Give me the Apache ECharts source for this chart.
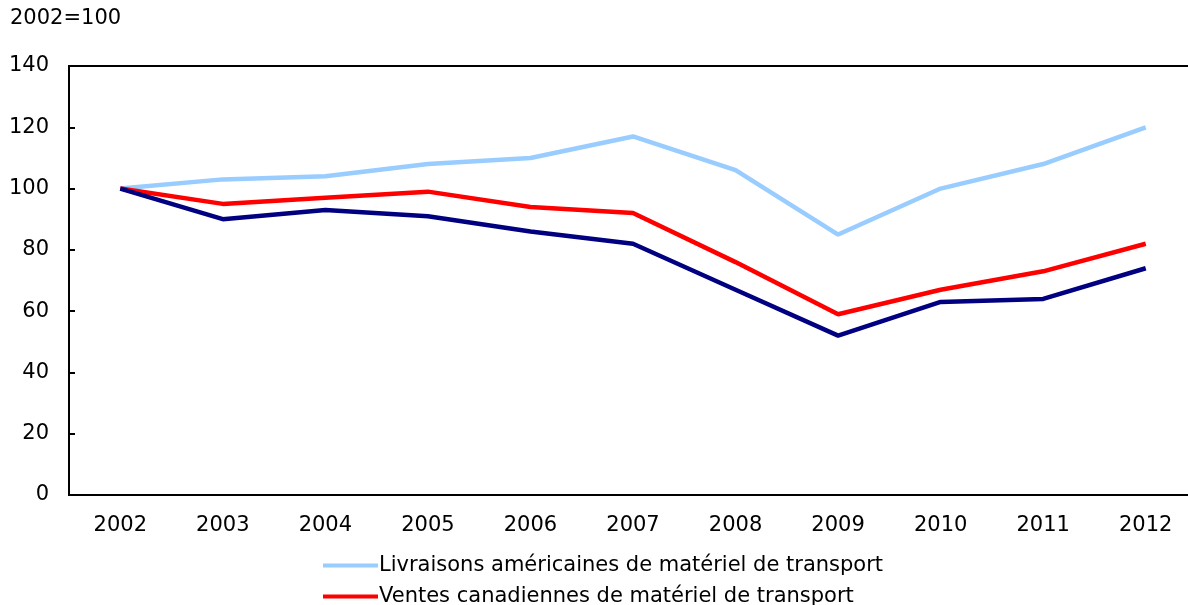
<!DOCTYPE html>
<html>
<head>
<meta charset="utf-8">
<script src="https://cdn.jsdelivr.net/npm/echarts@6/dist/echarts.min.js"></script>
<style>
  html, body { margin: 0; padding: 0; background: #fff; }
  #chart { width: 1188px; height: 605px; }
</style>
</head>
<body>
<div id="chart"></div>
<script>
// years on the category axis
const years = ['2002', '2003', '2004', '2005', '2006', '2007', '2008', '2009', '2010', '2011', '2012'];

// index values, 2002 = 100
const usDeliveries = [100, 103, 104, 108, 110, 117, 106, 85, 100, 108, 120];
const cdnSales = [100, 95, 97, 99, 94, 92, 76, 59, 67, 73, 82];
const cdnThird = [100, 90, 93, 91, 86, 82, 67, 52, 63, 64, 74];

const seriesNames = [
    'Livraisons américaines de matériel de transport',
    'Ventes canadiennes de matériel de transport',
    'Ventes canadiennes (autre)'
];

const font = 'DejaVu Sans, Verdana, sans-serif';
const fontSize = 21;

const chart = echarts.init(document.getElementById('chart'));

function line(name, data, color) {
    return {
        name: name,
        type: 'line',
        data: data,
        symbol: 'none',
        lineStyle: { color: color, width: 4.5 },
        itemStyle: { color: color },
        z: 3
    };
}

// one legend block per row, the third row falls below the picture
function legendRow(name, top) {
    return {
        data: [name],
        left: 318,
        top: top,
        itemWidth: 55,
        itemHeight: 4,
        icon: 'rect',
        textStyle: { fontSize: fontSize, color: '#000', fontFamily: font, padding: [0, 0, 0, -4] }
    };
}

chart.setOption({
    animation: false,
    textStyle: { fontFamily: font },
    graphic: [{
        type: 'text',
        left: 10,
        top: 8,
        style: { text: '2002=100', font: fontSize + 'px ' + font, fill: '#000' }
    }],
    grid: {
        left: 69,
        top: 66,
        width: 1128,
        height: 429,
        outerBoundsMode: 'none',
        containLabel: false,
        show: true,
        borderColor: '#000',
        borderWidth: 2
    },
    legend: [
        legendRow(seriesNames[0], 550),
        legendRow(seriesNames[1], 581)
    ],
    xAxis: {
        type: 'category',
        data: years,
        boundaryGap: true,
        axisLine: { lineStyle: { color: '#000', width: 2 } },
        axisTick: { show: false },
        axisLabel: { fontSize: fontSize, color: '#000', margin: 20 }
    },
    yAxis: {
        type: 'value',
        min: 0,
        max: 140,
        interval: 20,
        axisLine: { show: true, lineStyle: { color: '#000', width: 2 } },
        axisTick: { show: true, inside: true, length: 6, lineStyle: { color: '#000', width: 2 } },
        splitLine: { show: false },
        axisLabel: { fontSize: fontSize, color: '#000', margin: 20 }
    },
    series: [
        line(seriesNames[0], usDeliveries, '#99ccff'),
        line(seriesNames[1], cdnSales, '#ff0000'),
        line(seriesNames[2], cdnThird, '#000080')
    ]
});
</script>
</body>
</html>
